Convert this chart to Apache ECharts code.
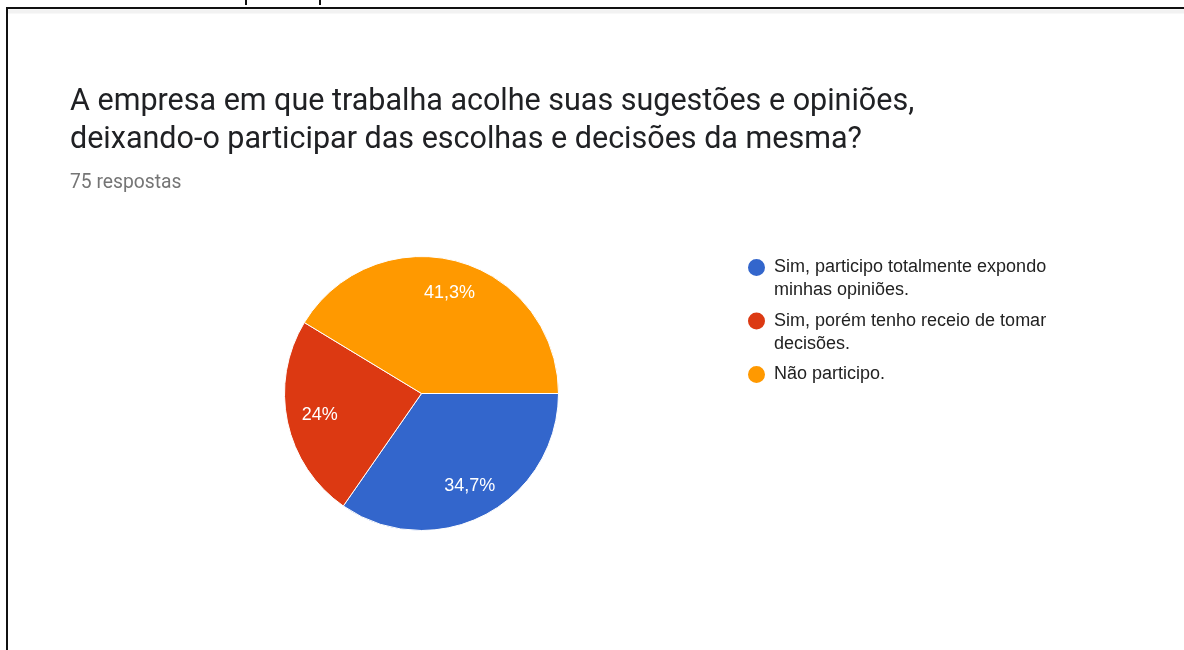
<!DOCTYPE html>
<html>
<head>
<meta charset="utf-8">
<title>Pie</title>
<script src="https://cdn.jsdelivr.net/npm/echarts@6/dist/echarts.min.js"></script>
<style>
  html, body { margin: 0; padding: 0; background: #fff; }
  #chart { width: 1184px; height: 650px; }
</style>
</head>
<body>
<div id="chart"></div>
<script>
// dados
const categories = [
  'Sim, participo totalmente expondo minhas opiniões.',
  'Sim, porém tenho receio de tomar decisões.',
  'Não participo.'
]
// texto quebrado como na legenda original (sempre 2 linhas p/ alinhar o ícone)
const legendLabels = [
  'Sim, participo totalmente expondo\nminhas opiniões.',
  'Sim, porém tenho receio de tomar\ndecisões.',
  'Não participo.\n '
]
const counts = [26, 18, 31]
const colors = ['#3366cc', '#dc3912', '#ff9900']

const titleText = 'A empresa em que trabalha acolhe suas sugestões e opiniões,\ndeixando-o participar das escolhas e decisões da mesma?'
const subText = '75 respostas'

// círculo no topo de uma caixa 25x46, assim fica alinhado com a 1a linha
const legendIcon = 'path://M3,11.5A9.5,9.5,0,1,1,22,11.5A9.5,9.5,0,1,1,3,11.5ZM0,0M25,46'

const chart = echarts.init(document.getElementById('chart'))

const pieData = categories.map((name, i) => ({
  name: name,
  value: counts[i],
  itemStyle: { color: colors[i] }
}))

const option = {
  backgroundColor: '#fff',
  animation: false,
  title: {
    text: titleText,
    subtext: subText,
    left: 65,
    top: 78,
    itemGap: 13,
    textStyle: {
      fontFamily: 'Roboto',
      fontSize: 30.5,
      fontWeight: 'normal',
      color: '#202124',
      lineHeight: 38
    },
    subtextStyle: {
      fontFamily: 'Roboto',
      fontSize: 19.3,
      color: '#757575',
      lineHeight: 22
    }
  },
  legend: {
    orient: 'vertical',
    left: 743,
    top: 255,
    padding: 0,
    icon: legendIcon,
    itemWidth: 25,
    itemHeight: 46,
    itemGap: 5.5,
    selectedMode: false,
    formatter: name => legendLabels[categories.indexOf(name)],
    textStyle: {
      fontFamily: 'Arial',
      fontSize: 18,
      color: '#222',
      lineHeight: 23
    },
    data: categories
  },
  graphic: [
    {
      type: 'rect',
      shape: { x: 7, y: 8, width: 1200, height: 700 },
      style: { fill: 'none', stroke: '#111', lineWidth: 2 },
      silent: true
    },
    {
      type: 'rect',
      shape: { x: 8, y: 9.5, width: 1200, height: 4 },
      style: { fill: '#f2f2f2' },
      silent: true
    },
    {
      type: 'rect',
      shape: { x: 245, y: 0, width: 2, height: 5 },
      style: { fill: '#111' },
      silent: true
    },
    {
      type: 'rect',
      shape: { x: 319, y: 0, width: 2, height: 5 },
      style: { fill: '#111' },
      silent: true
    }
  ],
  series: [
    {
      type: 'pie',
      center: [421.5, 393.5],
      radius: 137,
      startAngle: 0,
      clockwise: true,
      silent: true,
      percentPrecision: 1,
      label: { show: false },
      labelLine: { show: false },
      itemStyle: { borderColor: '#fff', borderWidth: 1 },
      data: pieData
    },
    {
      // anel transparente só para posicionar os rótulos
      type: 'pie',
      center: [421.5, 393.5],
      radius: [65, 137],
      startAngle: 0,
      clockwise: true,
      silent: true,
      percentPrecision: 1,
      itemStyle: { color: 'rgba(0,0,0,0)', borderWidth: 0 },
      labelLine: { show: false },
      label: {
        show: true,
        position: 'inside',
        fontFamily: 'Arial',
        fontSize: 18,
        color: '#fff',
        formatter: p => String(p.percent).replace('.', ',') + '%'
      },
      data: categories.map((name, i) => ({ name: name, value: counts[i] }))
    }
  ]
}

chart.setOption(option)
</script>
</body>
</html>
